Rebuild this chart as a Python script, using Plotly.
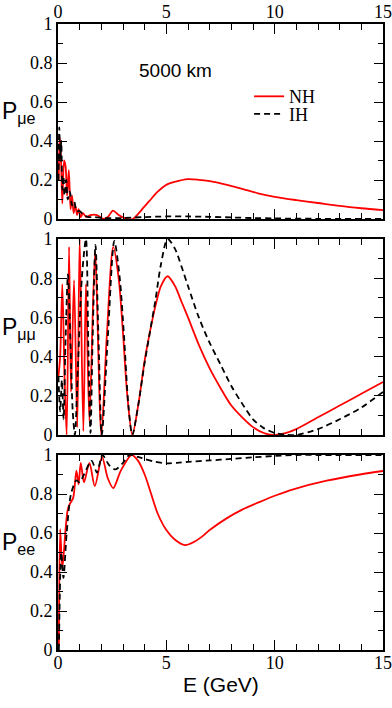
import plotly.graph_objects as go

# P_mue (top panel)
e_mue_nh = [0.03, 0.08, 0.14, 0.2, 0.28, 0.35, 0.42, 0.5, 0.58, 0.65, 0.72, 0.8, 0.88, 0.95, 1.05, 1.15, 1.3,
            1.5, 1.8, 2.1, 2.3, 2.54, 2.8, 3.1, 3.45, 3.85, 4.2, 4.6, 5.0, 5.38, 6.0, 6.5, 7.0, 7.7, 8.5, 9.23,
            10.0, 11.0, 12.0, 13.0, 14.0, 15.0]
p_mue_nh = [0.2, 0.42, 0.3, 0.08, 0.3, 0.27, 0.12, 0.25, 0.05, 0.12, 0.03, 0.07, 0.02, 0.05, 0.01, 0.03, 0.01,
            0.02, 0.02, 0.0, 0.01, 0.043, 0.02, 0.003, 0.0, 0.046, 0.09, 0.14, 0.175, 0.19, 0.204, 0.201, 0.194,
            0.178, 0.155, 0.132, 0.114, 0.097, 0.082, 0.067, 0.055, 0.045]
e_mue_ih = [0.02, 0.06, 0.1, 0.15, 0.2, 0.25, 0.3, 0.38, 0.45, 0.55, 0.65, 0.75, 0.85, 1.0, 1.2, 1.4, 1.7, 2.0,
            3.0, 4.0, 5.0, 6.0, 7.0, 8.0, 9.0, 10.0, 12.0, 15.0]
p_mue_ih = [0.2, 0.47, 0.3, 0.4, 0.15, 0.22, 0.12, 0.2, 0.1, 0.14, 0.07, 0.09, 0.04, 0.04, 0.02, 0.01, 0.01,
            0.005, 0.005, 0.01, 0.013, 0.013, 0.011, 0.008, 0.005, 0.003, 0.001, 0.0]

# P_mumu (middle panel)
e_mumu_nh = [0.02, 0.1, 0.2, 0.3, 0.4, 0.51, 0.6, 0.74, 0.89, 1.0, 1.17, 1.29, 1.45, 1.71, 2.0, 2.25, 2.55, 2.8,
             3.0, 3.2, 3.43, 3.7, 4.0, 4.25, 4.5, 4.75, 5.06, 5.4, 5.7, 6.0, 6.5, 7.0, 7.5, 8.0, 8.5, 9.0, 9.5,
             9.9, 10.5, 11.0, 12.0, 13.0, 14.0, 15.0]
p_mumu_nh = [0.3, 0.4, 0.77, 0.3, 0.0, 0.96, 0.22, 0.79, 0.04, 1.0, 0.02, 0.77, 0.07, 0.93, 0.0, 0.5, 0.96, 0.8,
             0.52, 0.2, 0.0, 0.15, 0.38, 0.53, 0.66, 0.76, 0.81, 0.76, 0.68, 0.6, 0.46, 0.34, 0.24, 0.15, 0.09,
             0.04, 0.01, 0.0, 0.01, 0.03, 0.09, 0.15, 0.21, 0.27]
e_mumu_ih = [0.02, 0.1, 0.18, 0.26, 0.34, 0.46, 0.58, 0.68, 0.78, 0.92, 1.1, 1.29, 1.4, 1.5, 1.6, 1.73, 1.88,
             2.02, 2.3, 2.6, 2.85, 3.05, 3.25, 3.43, 3.7, 4.0, 4.25, 4.5, 4.75, 5.06, 5.4, 5.7, 6.0, 6.5, 7.0,
             7.5, 8.0, 8.5, 9.0, 9.5, 10.0, 10.5, 11.0, 12.0, 13.0, 14.0, 15.0]
p_mumu_ih = [0.3, 0.12, 0.28, 0.08, 0.45, 0.82, 0.45, 0.12, 0.0, 0.35, 0.8, 1.0, 0.45, 0.01, 0.5, 0.97, 0.45,
             0.0, 0.5, 0.99, 0.8, 0.5, 0.15, 0.0, 0.15, 0.37, 0.53, 0.69, 0.87, 1.0, 0.95, 0.86, 0.76, 0.6, 0.47,
             0.36, 0.25, 0.16, 0.08, 0.035, 0.01, 0.002, 0.0, 0.03, 0.08, 0.14, 0.22]

# P_ee (bottom panel)
e_ee_nh = [0.04, 0.1, 0.2, 0.35, 0.45, 0.55, 0.7, 0.85, 0.95, 1.05, 1.2, 1.45, 1.7, 2.03, 2.3, 2.55, 2.9, 3.4,
           3.7, 4.0, 4.3, 4.6, 5.0, 5.4, 5.86, 6.24, 6.63, 7.0, 7.78, 8.5, 9.32, 10.1, 10.86, 12.4, 13.94, 15.0]
p_ee_nh = [0.02, 0.62, 0.42, 0.62, 0.72, 0.75, 0.78, 0.92, 0.85, 0.96, 0.86, 0.96, 0.84, 0.99, 0.88, 0.83, 0.92,
           1.0, 0.97, 0.9, 0.8, 0.7, 0.615, 0.565, 0.538, 0.552, 0.58, 0.615, 0.675, 0.72, 0.76, 0.795, 0.824,
           0.868, 0.9, 0.918]
e_ee_ih = [0.04, 0.15, 0.25, 0.4, 0.6, 0.85, 1.0, 1.2, 1.55, 1.8, 2.05, 2.35, 2.65, 3.0, 3.3, 3.7, 4.0, 4.5, 5.0,
           5.5, 6.0, 7.0, 8.0, 9.0, 10.0, 11.0, 12.0, 13.0, 14.0, 15.0]
p_ee_ih = [0.0, 0.5, 0.37, 0.6, 0.8, 0.87, 0.86, 0.9, 0.97, 0.91, 1.0, 0.95, 0.926, 0.96, 1.0, 0.99, 0.98, 0.965,
           0.957, 0.96, 0.965, 0.972, 0.98, 0.988, 0.995, 1.0, 1.0, 1.0, 1.0, 1.0]

panels = [
    (e_mue_nh, p_mue_nh, e_mue_ih, p_mue_ih, 'P<sub>μe</sub>'),
    (e_mumu_nh, p_mumu_nh, e_mumu_ih, p_mumu_ih, 'P<sub>μμ</sub>'),
    (e_ee_nh, p_ee_nh, e_ee_ih, p_ee_ih, 'P<sub>ee</sub>'),
]
domains = [[0.6885, 1.0], [0.3435, 0.6565], [0.0, 0.3115]]

serif = 'Liberation Serif'
sans = 'Liberation Sans'

fig = go.Figure()
for i, (e_nh, p_nh, e_ih, p_ih, ylab) in enumerate(panels):
    n = '' if i == 0 else str(i + 1)
    fig.add_trace(go.Scatter(x=e_nh, y=p_nh, mode='lines', name='NH', showlegend=(i == 0), legend='legend',
                             line=dict(color='#ff0000', width=1.8, shape='spline', smoothing=0.8),
                             xaxis='x' + n, yaxis='y' + n))
    fig.add_trace(go.Scatter(x=e_ih, y=p_ih, mode='lines', name='IH', showlegend=(i == 0), legend='legend2',
                             line=dict(color='black', width=1.8, dash='6px,4px', shape='spline', smoothing=0.8),
                             xaxis='x' + n, yaxis='y' + n))

    xax = dict(range=[0, 15], dtick=5, ticks='inside', ticklen=10, tickwidth=1.3, tickcolor='black',
               minor=dict(dtick=1, ticks='inside', ticklen=6, tickwidth=1.3, tickcolor='black'),
               showline=True, linecolor='black', linewidth=1.6, mirror='allticks', showgrid=False,
               zeroline=False, anchor='y' + n, automargin=False, ticklabeloverflow='allow',
               tickfont=dict(family=serif, size=18, color='black'))
    if i == 0:
        xax.update(side='top', showticklabels=True, ticklabelstandoff=-3)
    elif i == 1:
        xax.update(showticklabels=False, matches='x')
    else:
        xax.update(showticklabels=True, matches='x', ticklabelstandoff=-4)
    yax = dict(range=[0, 1], dtick=0.2, domain=domains[i], ticks='inside', ticklen=9, tickwidth=1.3,
               tickcolor='black',
               minor=dict(dtick=0.1, ticks='inside', ticklen=5, tickwidth=1.3, tickcolor='black'),
               showline=True, linecolor='black', linewidth=1.6, mirror='allticks', showgrid=False,
               zeroline=False, anchor='x' + n, automargin=False, ticklabeloverflow='allow',
               ticklabelstandoff=0,
               tickfont=dict(family=serif, size=18, color='black'))
    fig.layout['xaxis' + n] = xax
    fig.layout['yaxis' + n] = yax

    # y-axis label, horizontal as in the original
    mid = sum(domains[i]) / 2 + 0.0136
    fig.add_annotation(text=ylab, xref='paper', yref='paper', x=-0.178, y=mid, xanchor='left',
                       yanchor='middle', showarrow=False, font=dict(family=sans, size=23, color='black'))

fig.add_annotation(text='E (GeV)', xref='paper', yref='paper', x=0.503, y=-0.055, xanchor='center',
                   yanchor='middle', showarrow=False, font=dict(family=sans, size=21, color='black'))
fig.add_annotation(text='5000 km', xref='paper', yref='paper', x=0.36, y=0.925, xanchor='center',
                   yanchor='middle', showarrow=False, font=dict(family=sans, size=19, color='black'))

leg = dict(x=0.588, xanchor='left', yanchor='middle', bgcolor='rgba(0,0,0,0)',
           font=dict(family=serif, size=18, color='black'), itemwidth=30)
fig.update_layout(
    width=392, height=708,
    margin=dict(l=58, r=9, t=24, b=58),
    paper_bgcolor='white', plot_bgcolor='white',
    legend=dict(leg, y=0.884),
    legend2=dict(leg, y=0.856),
)

# drop the default 8px body margin so the figure fills the window
fig.write_html("out.html", config={'displayModeBar': False},
               post_script="document.body.style.margin = '0';")
